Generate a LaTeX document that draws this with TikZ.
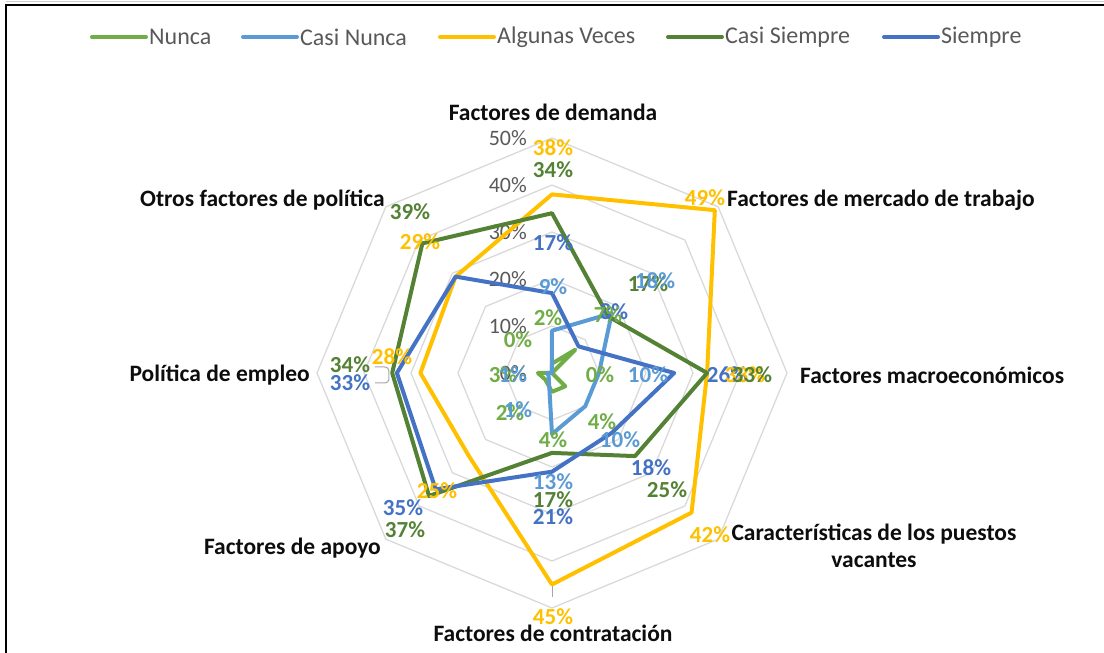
\documentclass[tikz,border=0pt]{standalone}
\usepackage{fontspec}
\setmainfont{Carlito}
\usepackage{tikz}
\definecolor{cnun}{HTML}{70AD47}
\definecolor{ccn}{HTML}{5B9BD5}
\definecolor{cav}{HTML}{FFC000}
\definecolor{ccs}{HTML}{548235}
\definecolor{csi}{HTML}{4472C4}
\definecolor{gridgray}{HTML}{D9D9D9}
\definecolor{tickgray}{HTML}{595959}
\definecolor{catblack}{HTML}{0D0D0D}
\tikzset{
x=1pt, y=1pt, % one unit is one pixel of the chart
grid ring/.style={draw=gridgray, line width=1.3pt},
serie/.style={line width=4pt, line join=round}, % the data polygons
leader/.style={draw=gray!70, line width=1pt},
val/.style={font=\fontsize{23}{25}\selectfont\bfseries, inner sep=0pt},
tick/.style={font=\fontsize{22}{24}\selectfont, text=tickgray, anchor=east, inner sep=0pt},
cat/.style={font=\fontsize{23.5}{27}\selectfont\bfseries, text=catblack, inner sep=0pt},
legtext/.style={font=\fontsize{24}{26}\selectfont, text=tickgray, anchor=west, inner sep=0pt},
}
% one series: style, then values for the eight axes (clockwise from the top)
\newcommand{\radarserie}[9]{%
  \draw[serie, #1] (90:#2*4.7) -- (45:#3*4.7) -- (0:#4*4.7) -- (-45:#5*4.7)
    -- (-90:#6*4.7) -- (-135:#7*4.7) -- (180:#8*4.7) -- (135:#9*4.7) -- cycle;}

\begin{document}
\begin{tikzpicture}
  \useasboundingbox (-552,-280) rectangle (552,373);
  \draw[gray!40, line width=1pt] (-546,371.5) -- (552,371.5);
  \draw[black, line width=2.5pt] (-546,-280) -- (-546,368) -- (552,368);

  % rings
  \foreach \r in {47,94,...,235}
    \draw[grid ring] (90:\r) -- (45:\r) -- (0:\r) -- (-45:\r) -- (-90:\r)
      -- (-135:\r) -- (180:\r) -- (135:\r) -- cycle;
  \foreach \v [count=\i from 0] in {0,10,...,50}
    \node[tick] (tick\v) at (-25,\i*47) {\v\%};

  \radarserie{cnun}{2}{7}{0}{4}{4}{2}{3}{0}
  \radarserie{ccn}{9}{18}{10}{10}{13}{1}{1}{0}
  \radarserie{cav}{38}{49}{33}{42}{45}{25}{28}{29}
  \radarserie{ccs}{34}{17}{33}{25}{17}{37}{34}{39}
  \radarserie{csi}{17}{8}{26}{18}{21}{35}{33}{29}

  \draw[leader] (1,-213) -- (1,-224);
  \draw[leader, rounded corners=4pt] (-177,6) -- (-163,6) -- (-163,-10) -- (-177,-10);

  % Factores de demanda
  \node[val, text=cav] (av-dem) at (1,225) {38\%};
  \node[val, text=ccs] (cs-dem) at (1,203) {34\%};
  \node[val, text=csi] (si-dem) at (1,130) {17\%};
  \node[val, text=ccn] (cn-dem) at (1,86) {9\%};
  \node[val, text=cnun] (nu-dem) at (-4,55) {2\%};
  % mercado de trabajo
  \node[val, text=cav] (av-mer) at (153,175) {49\%};
  \node[val, text=ccs] (cs-mer) at (96,89) {17\%};
  \node[val, text=ccn] (cn-mer) at (103,92) {18\%};
  \node[val, text=csi] (si-mer) at (62,61) {8\%};
  \node[val, text=cnun] (nu-mer) at (56,58) {7\%};
  % macroeconomicos
  \node[val, text=csi] (si-mac) at (175,-2) {26\%};
  \node[val, text=cav] (av-mac) at (193,-2) {33\%};
  \node[val, text=ccs] (cs-mac) at (200,-2) {33\%};
  \node[val, text=ccn] (cn-mac) at (96,-2) {10\%};
  \node[val, text=cnun] (nu-mac) at (48,-2) {0\%};
  % puestos vacantes
  \node[val, text=cnun] (nu-car) at (50,-49) {4\%};
  \node[val, text=ccn] (cn-car) at (68,-67) {10\%};
  \node[val, text=csi] (si-car) at (99,-95) {18\%};
  \node[val, text=ccs] (cs-car) at (115,-117) {25\%};
  \node[val, text=cav] (av-car) at (158,-162) {42\%};
  % contratacion
  \node[val, text=cnun] (nu-con) at (1,-67) {4\%};
  \node[val, text=ccn] (cn-con) at (1,-109) {13\%};
  \node[val, text=ccs] (cs-con) at (1,-127) {17\%};
  \node[val, text=csi] (si-con) at (1,-144) {21\%};
  \node[val, text=cav] (av-con) at (1,-244) {45\%};
  % apoyo
  \node[val, text=cnun] (nu-apo) at (-42,-40) {2\%};
  \node[val, text=ccn] (cn-apo) at (-34,-37) {1\%};
  \node[val, text=cav] (av-apo) at (-115,-118) {25\%};
  \node[val, text=csi] (si-apo) at (-149,-135) {35\%};
  \node[val, text=ccs] (cs-apo) at (-147,-157) {37\%};
  % politica de empleo
  \node[val, text=cnun] (nu-emp) at (-49,-2) {3\%};
  \node[val, text=ccn] (cn-emp) at (-39,-2) {1\%};
  \node[val, text=cav] (av-emp) at (-160,16) {28\%};
  \node[val, text=ccs] (cs-emp) at (-202,8) {34\%};
  \node[val, text=csi] (si-emp) at (-202,-10) {33\%};
  % otros factores
  \node[val, text=cnun] (nu-otr) at (-34,33) {0\%};
  \node[val, text=ccs] (cs-otr) at (-142,161) {39\%};
  \node[val, text=cav] (av-otr) at (-132,131) {29\%};

  % axis names
  \node[cat] (dem) at (1,261) {Factores de demanda};
  \node[cat, anchor=west] (mer) at (175,173) {Factores de mercado de trabajo};
  \node[cat, anchor=west] (mac) at (248,-2) {Factores macroeconómicos};
  \node[cat, align=center] (car) at (322,-173) {Características de los puestos\\vacantes};
  \node[cat] (con) at (1,-260) {Factores de contratación};
  \node[cat, anchor=east] (apo) at (-171,-175) {Factores de apoyo};
  \node[cat, anchor=east] (emp) at (-242,-2) {Política de empleo};
  \node[cat, anchor=east] (otr) at (-167,173) {Otros factores de política};

  % legend
  \foreach \c/\xa/\lab [count=\k] in {cnun/-460/Nunca, ccn/-309/Casi Nunca,
      cav/-112/Algunas Veces, ccs/116/Casi Siempre, csi/332/Siempre}{
    \draw[\c, line width=4pt, line cap=round] (\xa,336) -- (\xa+54,336);
    \node[legtext] (leg\k) at (\xa+57,336) {\lab};
  }
\end{tikzpicture}
\end{document}
